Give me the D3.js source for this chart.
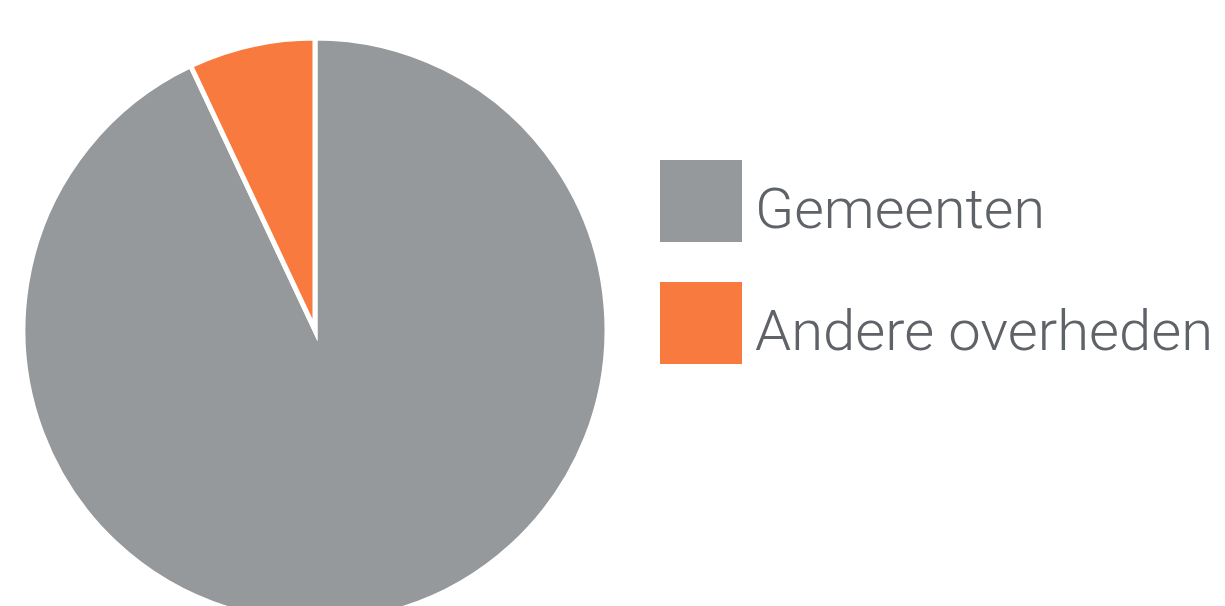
<!DOCTYPE html>
<html>
<head>
<meta charset="utf-8">
<script src="https://cdn.jsdelivr.net/npm/d3@7"></script>
<style>
  html, body { margin: 0; padding: 0; background: #ffffff; }
  svg { display: block; }
</style>
</head>
<body>
<svg id="chart" width="1225" height="606"></svg>
<script>
const categories = ["Gemeenten", "Andere overheden"];
const values = [93, 7];
const colors = ["#96999b", "#f97a3f"];

const svg = d3.select("#chart");
const cx = 315, cy = 330, r = 292;

const data = categories.map((c, i) => ({ name: c, value: values[i], color: colors[i] }));
const pie = d3.pie().sort(null).value(d => d.value);
const arc = d3.arc().innerRadius(0).outerRadius(r);

const g = svg.append("g").attr("transform", `translate(${cx},${cy})`);
g.selectAll("path")
  .data(pie(data))
  .join("path")
  .attr("d", arc)
  .attr("fill", d => d.data.color)
  .attr("stroke", "#ffffff")
  .attr("stroke-width", 5)
  .attr("stroke-linejoin", "miter")
  .attr("stroke-miterlimit", 10);

const legend = svg.append("g");
const y = d3.scalePoint().domain(categories).range([160, 282]);
const items = legend.selectAll("g.item").data(data).join("g").attr("class", "item")
  .attr("transform", d => `translate(660,${y(d.name)})`);
items.append("rect")
  .attr("width", 82).attr("height", 82)
  .attr("fill", d => d.color);
const textWidths = { "Gemeenten": 290, "Andere overheden": 458 };
items.append("text")
  .attr("x", 95).attr("y", 68)
  .attr("font-family", "Roboto, 'Noto Sans', sans-serif")
  .attr("font-weight", 300)
  .attr("font-size", 56)
  .attr("fill", "#5f6368")
  .attr("textLength", d => textWidths[d.name])
  .attr("lengthAdjust", "spacingAndGlyphs")
  .text(d => d.name);
</script>
</body>
</html>
